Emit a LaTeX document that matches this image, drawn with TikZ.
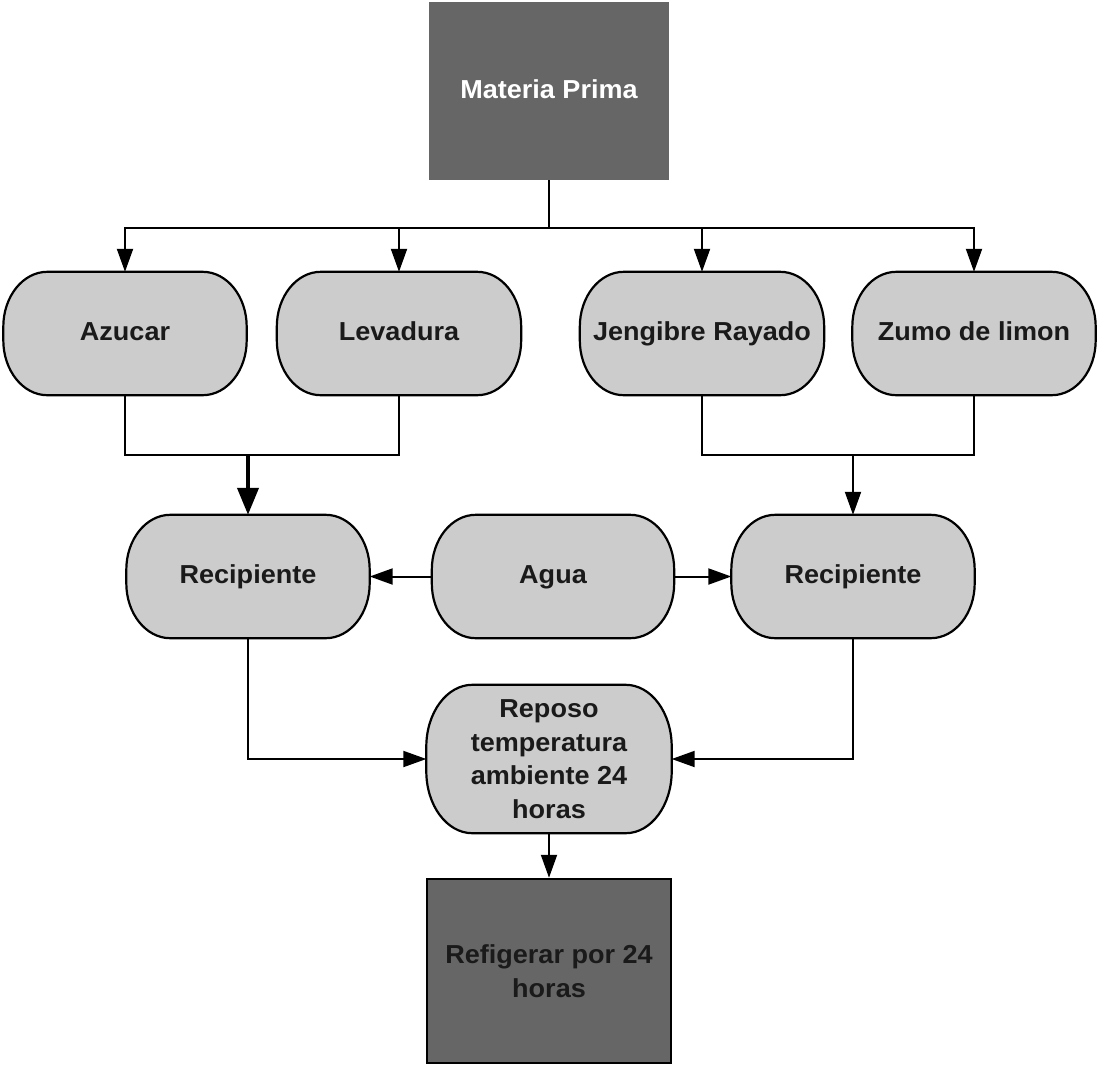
\documentclass[tikz,border=0pt]{standalone}
\usepackage{fontspec}
\setmainfont{Liberation Sans}[FakeStretch=1.04]
\usetikzlibrary{arrows.meta,backgrounds}
\definecolor{pillgray}{HTML}{CCCCCC}
\definecolor{boxgray}{HTML}{666666}
\definecolor{ink}{HTML}{1A1A1A}
\tikzset{
  txt/.style={font=\fontsize{26}{33.5}\selectfont\bfseries, text=ink, align=center, inner sep=0pt},
  one/.style={txt, text height=19pt, text depth=5pt},
  pillline/.style={fill=pillgray, draw=black, line width=2.2pt},
  conn/.style={draw=black, line width=2pt},
  arr/.style={conn, -{Triangle[length=23pt,width=16pt]}},
  thickarr/.style={draw=black, line width=4pt, -{Triangle[length=27pt,width=21pt]}},
}
\newcommand\pillshape[3]{%
  \filldraw[pillline] ([xshift=#2]#1.north west) -- ([xshift=-#2]#1.north east)
    arc[start angle=90,end angle=0,x radius=#2,y radius=#3]
    -- ([yshift=#3]#1.south east)
    arc[start angle=0,end angle=-90,x radius=#2,y radius=#3]
    -- ([xshift=#2]#1.south west)
    arc[start angle=270,end angle=180,x radius=#2,y radius=#3]
    -- ([yshift=-#3]#1.north west)
    arc[start angle=180,end angle=90,x radius=#2,y radius=#3] -- cycle;
}
\begin{document}
\begin{tikzpicture}[x=1pt,y=-1pt]
\useasboundingbox (0,0) rectangle (1097,1066);
% boxes
\node[one, text=white, fill=boxgray, minimum width=240pt, minimum height=178pt] (mp) at (549,91) {Materia Prima};
\node[txt, fill=boxgray, draw=black, line width=2.5pt, minimum width=244pt, minimum height=184pt] (ref) at (549,971) {Refigerar por 24\\horas};
% pills
\node[one, minimum width=243pt, minimum height=123pt] (az) at (125,333.5) {Azucar};
\node[one, minimum width=244pt, minimum height=123pt] (lev) at (399,333.5) {Levadura};
\node[one, minimum width=244pt, minimum height=123pt] (jen) at (702,333.5) {Jengibre Rayado};
\node[one, minimum width=243pt, minimum height=123pt] (zum) at (974,333.5) {Zumo de limon};
\node[one, minimum width=243pt, minimum height=123pt] (rec1) at (248,576.5) {Recipiente};
\node[one, minimum width=242pt, minimum height=123pt] (agua) at (553,576.5) {Agua};
\node[one, minimum width=243pt, minimum height=123pt] (rec2) at (853,576.5) {Recipiente};
\node[txt, minimum width=245pt, minimum height=148pt] (rep) at (549,759) {Reposo\\temperatura\\ambiente 24\\horas};
\begin{scope}[on background layer]
  \fill[white] (0,0) rectangle (1097,1066);
  \foreach \n in {az,lev,jen,zum,rec1,agua,rec2} {\pillshape{\n}{44pt}{55pt}}
  \pillshape{rep}{46pt}{62pt}
\end{scope}
% connectors
\coordinate (bus) at (549,228);
\coordinate (lm) at (248,455);
\coordinate (rm) at (853,455);
\draw[conn] (mp.south) -- (bus);
\draw[arr] (bus) -| (az.north);
\draw[arr] (bus) -| (lev.north);
\draw[arr] (bus) -| (jen.north);
\draw[arr] (bus) -| (zum.north);
\draw[conn] (az.south) |- (lm);
\draw[conn] (lev.south) |- (lm);
\draw[thickarr] (lm) -- (rec1.north);
\draw[conn] (jen.south) |- (rm);
\draw[conn] (zum.south) |- (rm);
\draw[arr] (rm) -- (rec2.north);
\draw[arr] (agua.west) -- (rec1.east);
\draw[arr] (agua.east) -- (rec2.west);
\draw[arr] (rec1.south) |- (rep.west);
\draw[arr] (rec2.south) |- (rep.east);
\draw[arr] (rep.south) -- (ref.north);
\end{tikzpicture}
\end{document}
